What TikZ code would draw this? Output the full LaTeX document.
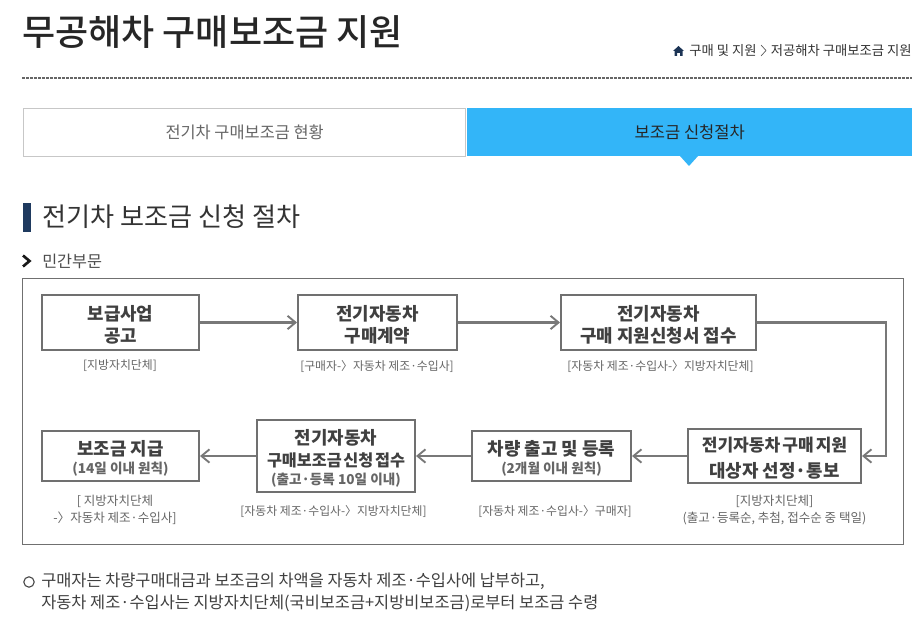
\documentclass[tikz,border=0pt]{standalone}
\usepackage{fontspec}
\setmainfont{Noto Sans CJK KR}
\newfontfamily\krmedium{Noto Sans CJK KR Medium}
\usetikzlibrary{arrows.meta}
\definecolor{boxgray}{HTML}{707070}
\definecolor{flowgray}{HTML}{787878}
\definecolor{txtdark}{HTML}{404040}
\definecolor{subgray}{HTML}{666666}
\definecolor{tabblue}{HTML}{33B5F8}
\definecolor{navy}{HTML}{1F3A5F}
\newcommand{\smallline}{\fontsize{10.2pt}{12pt}\selectfont\color{subgray}}
\newcommand{\tightbox}{\fontsize{12.8pt}{16.5pt}\selectfont\spaceskip=0.12em\relax}
\newcommand{\tighterbox}{\fontsize{12.2pt}{16.5pt}\selectfont\spaceskip=0.1em\relax}
\tikzset{
  stepbox/.style={draw=boxgray,line width=1.5pt,fill=white,inner sep=0pt,anchor=north west},
  steptext/.style={inner sep=0pt,align=center,text=txtdark,font=\fontsize{13.4pt}{16.5pt}\selectfont\bfseries},
  subnote/.style={font=\fontsize{8.9pt}{12.5pt}\selectfont,text=subgray,align=center,inner sep=0pt},
  widenote/.style={subnote,font=\fontsize{9.4pt}{12.5pt}\selectfont},
  flow/.style={draw=flowgray,line width=1.7pt,-{Straight Barb[length=6pt,width=10pt,line width=1.4pt]}},
  plain/.style={inner sep=0pt,anchor=west}
}
\newcommand{\stepat}[6]{\node[stepbox,minimum width=#4*0.75pt,minimum height=#5*0.75pt] (#1) at (#2,#3) {};
  \node[steptext] (#1t) at ([yshift=-1.5pt]#1.center) {#6};}
\begin{document}
\begin{tikzpicture}[x=0.75pt,y=-0.75pt]
\useasboundingbox (0,0) rectangle (924,627);
\fill[white] (0,0) rectangle (924,627);
% header
\node[plain,font=\fontsize{27pt}{30pt}\selectfont\krmedium,text=black!85] (title) at (22,32) {무공해차 구매보조금 지원};
\fill[navy!90!black] (673,51) -- (678.5,46) -- (684,51) -- (682.5,51) -- (682.5,56) -- (680,56) -- (680,53) -- (677,53) -- (677,56) -- (674.5,56) -- (674.5,51) -- cycle;
\node[plain,font=\fontsize{10pt}{11pt}\selectfont,text=black!80] (crumb1) at (689,50.5) {구매 및 지원};
\node[plain,font=\fontsize{10pt}{11pt}\selectfont,text=black!80] (crumb2) at (770.5,50.5) {저공해차 구매보조금 지원};
\draw[black!65,line width=0.5pt] (761,45) -- (766,50.5) -- (761,56);
\draw[black!60,line width=1.4pt,dash pattern=on 2pt off 1pt] (22,78) -- (912,78);
% tabs
\node[draw=black!22,line width=1pt,fill=white,minimum width=442*0.75pt,minimum height=48*0.75pt,inner sep=0pt,anchor=north west,font=\fontsize{12.3pt}{14pt}\selectfont,text=black!60] (tabA) at (23,108) {전기차 구매보조금 현황};
\fill[tabblue] (680,156) -- (689,166) -- (698,156) -- cycle;
\node[fill=tabblue,minimum width=445*0.75pt,minimum height=48*0.75pt,inner sep=0pt,anchor=north west,font=\fontsize{12.4pt}{14pt}\selectfont,text=black!85] (tabB) at (467,108) {보조금 신청절차};
% heading
\fill[navy] (23,203) rectangle (31,232);
\node[plain,font=\fontsize{19.6pt}{22pt}\selectfont,text=black!80] (head) at (42,217) {전기차 보조금 신청 절차};
\draw[black!90,line width=2pt] (23,255.5) -- (29.5,261) -- (23,266.5);
\node[plain,font=\fontsize{12.2pt}{14pt}\selectfont,text=black!70] (sec) at (42,261) {민간부문};
% frame
\draw[boxgray,line width=0.9pt] (22.5,278.5) rectangle (903.5,544.5);
% boxes
\stepat{b1}{41}{294}{157}{55}{보급사업\\공고}
\stepat{b2}{297}{294}{159}{55}{전기자동차\\구매계약}
\stepat{b3}{560}{294}{195}{55}{전기자동차\\구매 지원신청서 접수}
\stepat{b4}{687}{428}{173}{54}{\tightbox 전기자동차 구매 지원\\[3pt]대상자 선정·통보}
\stepat{b5}{471}{430}{159}{50}{차량 출고 및 등록\\[-3pt]{\smallline (2개월 이내 원칙)}}
\stepat{b6}{256}{419}{158}{72}{전기자동차\\{\tighterbox 구매보조금 신청 접수}\\[-3pt]{\smallline (출고·등록 10일 이내)}}
\stepat{b7}{41}{430}{157}{50}{보조금 지급\\[-3pt]{\smallline (14일 이내 원칙)}}
% connectors
\draw[flow] (b1) -- (b2);
\draw[flow] (b2) -- (b3);
\coordinate (turn) at (886,400);
\draw[flow] (b3.east) -- (b3.east -| turn) -- (b4.east -| turn) -- (b4.east);
\draw[flow] (b4) -- (b5);
\draw[flow] (b5) -- (b6);
\draw[flow] (b6) -- (b7);
% notes
\node[subnote] (n1) at (120,366) {[지방자치단체]};
\node[subnote] (n2) at (377,366) {[구매자-〉자동차 제조·수입사]};
\node[subnote] (n3) at (660.5,366) {[자동차 제조·수입사-〉지방자치단체]};
\node[widenote] (n4) at (774.5,510) {[지방자치단체]\\(출고·등록순, 추첨, 접수순 중 택일)};
\node[subnote] (n5) at (555,511) {[자동차 제조·수입사-〉구매자]};
\node[subnote] (n6) at (333.5,511) {[자동차 제조·수입사-〉지방자치단체]};
\node[widenote] (n7) at (115,510) {[ 지방자치단체\\-〉자동차 제조·수입사]};
% footer
\draw[black!75,line width=0.8pt] (29,582) circle (5.2);
\node[plain,font=\fontsize{12.3pt}{14pt}\selectfont,text=black!75] (f1) at (41,581) {구매자는 차량구매대금과 보조금의 차액을 자동차 제조·수입사에 납부하고,};
\node[plain,font=\fontsize{12.3pt}{14pt}\selectfont,text=black!75] (f2) at (41,603) {자동차 제조·수입사는 지방자치단체(국비보조금+지방비보조금)로부터 보조금 수령};
\end{tikzpicture}
\end{document}
